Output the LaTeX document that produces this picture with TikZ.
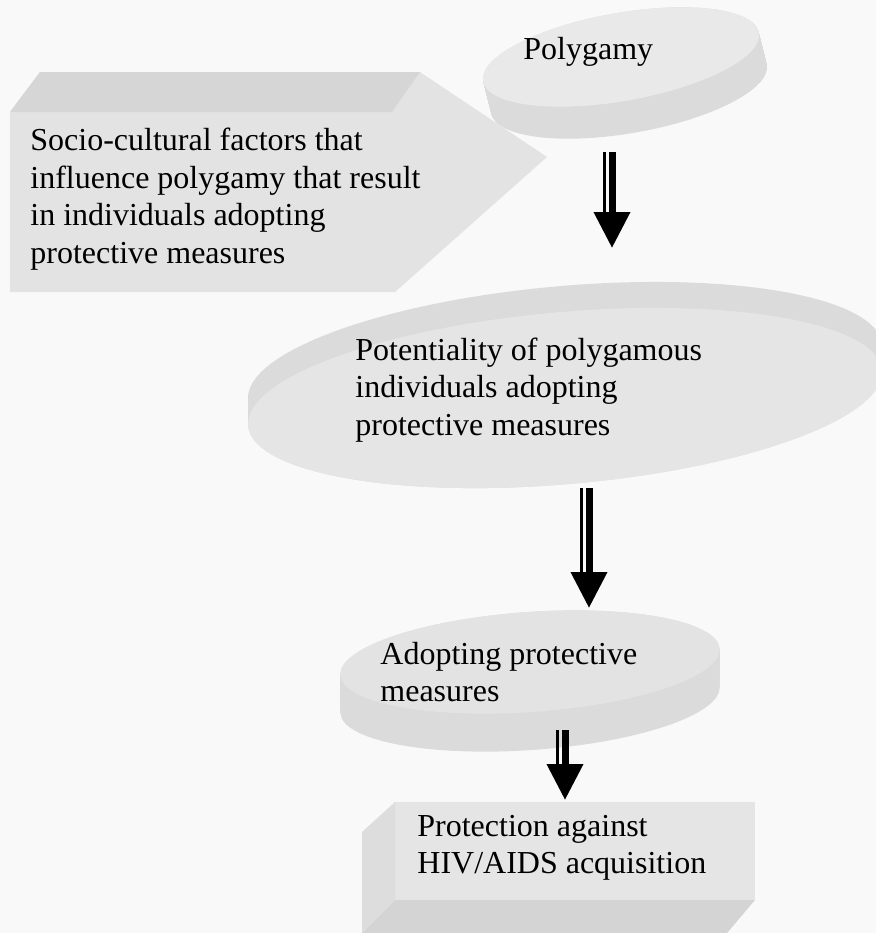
\documentclass[tikz,border=0pt]{standalone}
\usepackage{fontspec}
\setmainfont{Liberation Serif}
\usepackage{tikz}
\usetikzlibrary{arrows.meta, positioning, calc}

\begin{document}
\begin{tikzpicture}[
    x=0.5pt, y=-0.5pt,
    txt/.style={inner sep=0pt, anchor=west, align=left, font=\fontsize{16}{18.75}\selectfont},
    face/.style={fill=gray!20},
    rim/.style={fill=gray!28},
    shaft/.style={draw, line width=3.5pt, -{Triangle[width=17.5pt, length=18pt]}},
    rail/.style={draw, line width=1.5pt}
]

    \useasboundingbox (0,0) rectangle (876,933);
    \clip (0,0) rectangle (876,933);
    \fill[gray!5] (0,0) rectangle (876,933);

    % Shapes
    \foreach \k in {0,1,...,32}
        \fill[rim, shift={(\k/4,\k)}, rotate around={10:(621,57)}] (621,57) ellipse [x radius=140, y radius=44];
    \fill[face, fill=gray!17, rotate around={10:(621,57)}] (621,57) ellipse [x radius=140, y radius=44];

    \foreach \k in {0,1,...,26}
        \fill[rim, shift={(0,-\k)}, rotate around={5:(565,398)}] (565,398) ellipse [x radius=318, y radius=86];
    \fill[face, rotate around={5:(565,398)}] (565,398) ellipse [x radius=318, y radius=86];

    \fill[gray!22] (10,112) -- (40,72) -- (420,72) -- (547,157) -- (395,292) -- (10,292) -- cycle;
    \fill[gray!32] (10,112) -- (40,72) -- (420,72) -- (392,112) -- cycle;

    \foreach \k in {0,1,...,38}
        \fill[rim, shift={(0,\k)}, rotate around={4:(530,662)}] (530,662) ellipse [x radius=190, y radius=50];
    \fill[face, fill=gray!22, rotate around={4:(530,662)}] (530,662) ellipse [x radius=190, y radius=50];

    \fill[gray!20] (395,802) rectangle (755,900);
    \fill[gray!27] (395,802) -- (362,832) -- (362,933) -- (395,900) -- cycle;
    \fill[gray!34] (395,900) -- (755,900) -- (727,933) -- (362,933) -- cycle;

    % Nodes
    \node[txt] (poly) at (523,52) {Polygamy};
    \node[txt] (socio) at (30,199) {Socio-cultural factors that\\influence polygamy that result\\in individuals adopting\\protective measures};
    \node[txt] (potent) at (355,390) {Potentiality of polygamous\\individuals adopting\\protective measures};
    \node[txt] (adopt) at (380,672) {Adopting protective\\measures};
    \node[txt] (protect) at (417,848) {Protection against\\HIV/AIDS acquisition};

    % Arrows
    \coordinate (a1s) at (610,152);
    \coordinate (a1e) at (610,248);
    \coordinate (a2s) at (587,488);
    \coordinate (a2e) at (587,608);
    \coordinate (a3s) at (563,730);
    \coordinate (a3e) at (563,800);

    \draw[shaft] ([xshift=1pt]a1s) -- ([xshift=1pt]a1e);
    \draw[rail] ([xshift=-2.75pt]a1s) -- ([xshift=-2.75pt, yshift=18pt]a1e);
    \draw[shaft] ([xshift=1pt]a2s) -- ([xshift=1pt]a2e);
    \draw[rail] ([xshift=-2.75pt]a2s) -- ([xshift=-2.75pt, yshift=18pt]a2e);
    \draw[shaft] ([xshift=1pt]a3s) -- ([xshift=1pt]a3e);
    \draw[rail] ([xshift=-2.75pt]a3s) -- ([xshift=-2.75pt, yshift=18pt]a3e);

\end{tikzpicture}
\end{document}
